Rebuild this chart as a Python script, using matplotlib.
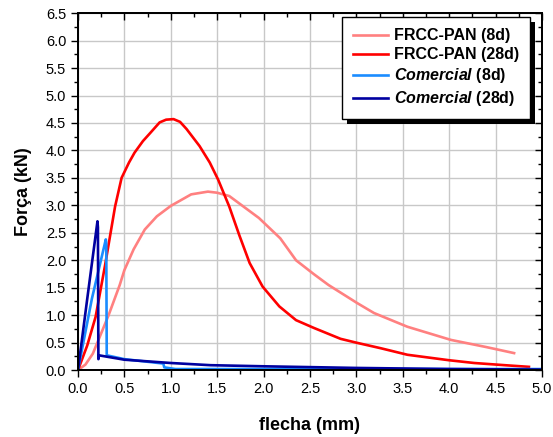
import matplotlib
matplotlib.use("Agg")
import matplotlib.pyplot as plt
from matplotlib.patches import Rectangle
from matplotlib.transforms import IdentityTransform
from matplotlib.ticker import MultipleLocator, FormatStrFormatter

plt.rcParams['font.family'] = ['Liberation Sans', 'DejaVu Sans']
plt.rcParams['mathtext.fontset'] = 'custom'
plt.rcParams['mathtext.it'] = 'Liberation Sans:bold:italic'
plt.rcParams['mathtext.rm'] = 'Liberation Sans:bold'

# FRCC-PAN (8d)
pan8_x = [0, 0.08, 0.16, 0.25, 0.33, 0.45, 0.5, 0.6, 0.72, 0.85, 1.0, 1.22, 1.4, 1.5, 1.63,
          1.95, 2.18, 2.35, 2.54, 2.7, 3.01, 3.19, 3.55, 4.02, 4.4, 4.7]
pan8_y = [0, 0.1, 0.3, 0.67, 1.0, 1.55, 1.82, 2.2, 2.56, 2.8, 2.99, 3.2, 3.25, 3.23, 3.17,
          2.77, 2.4, 2.0, 1.75, 1.55, 1.22, 1.04, 0.79, 0.55, 0.42, 0.31]

# FRCC-PAN (28d)
pan28_x = [0, 0.1, 0.19, 0.29, 0.4, 0.47, 0.55, 0.61, 0.7, 0.78, 0.88, 0.95, 1.03, 1.1,
           1.17, 1.31, 1.42, 1.51, 1.63, 1.74, 1.85, 1.99, 2.17, 2.35, 2.54, 2.83, 3.0,
           3.26, 3.55, 4.0, 4.27, 4.6, 4.86]
pan28_y = [0, 0.45, 0.97, 1.89, 2.98, 3.5, 3.78, 3.96, 4.17, 4.32, 4.51, 4.56, 4.57, 4.52,
           4.39, 4.08, 3.78, 3.47, 2.98, 2.45, 1.95, 1.52, 1.16, 0.91, 0.77, 0.57, 0.5,
           0.4, 0.28, 0.18, 0.13, 0.09, 0.06]

# Comercial (8d)
com8_x = [0, 0.15, 0.3, 0.305, 0.31, 0.5, 0.92, 0.93, 1.05, 5.0]
com8_y = [0, 1.3, 2.38, 2.3, 0.27, 0.2, 0.12, 0.05, 0.02, 0.02]

# Comercial (28d)
com28_x = [0, 0.1, 0.21, 0.215, 0.22, 0.225, 0.5, 1.0, 1.43, 2.0, 3.0, 4.0, 5.0]
com28_y = [0, 1.3, 2.71, 2.6, 0.2, 0.27, 0.19, 0.13, 0.09, 0.07, 0.04, 0.02, 0.01]

fig = plt.figure(figsize=(5.53, 4.37), dpi=100)
ax = fig.add_axes([0.141, 0.153, 0.839, 0.817])

lw = 1.9
ax.plot(pan8_x, pan8_y, color='#ff8080', lw=lw, label='FRCC-PAN (8d)')
ax.plot(pan28_x, pan28_y, color='#ff0000', lw=lw, label='FRCC-PAN (28d)')
ax.plot(com8_x, com8_y, color='#1a8cff', lw=lw, label=r'$\mathit{Comercial}$ (8d)')
ax.plot(com28_x, com28_y, color='#0000a0', lw=lw, label=r'$\mathit{Comercial}$ (28d)')

ax.set_xlim(0, 5)
ax.set_ylim(0, 6.5)
for axis in (ax.xaxis, ax.yaxis):
    axis.set_major_locator(MultipleLocator(0.5))
    axis.set_minor_locator(MultipleLocator(0.25))
    axis.set_major_formatter(FormatStrFormatter('%.1f'))
ax.grid(True, which='major', color='#c8c8c8', lw=1)
ax.set_axisbelow(True)
ax.tick_params(which='major', direction='out', length=5, width=1, labelsize=10.5)
ax.tick_params(which='minor', direction='out', length=3, width=1)
for s in ax.spines.values():
    s.set_linewidth(1.2)

ax.set_xlabel('flecha (mm)', fontsize=13, fontweight='bold', labelpad=15)
ax.set_ylabel('Força (kN)', fontsize=13, fontweight='bold', labelpad=10)

# inward ticks on top and right sides
tx = ax.twiny()
ty = ax.twinx()
tx.set_xlim(ax.get_xlim())
ty.set_ylim(ax.get_ylim())
for t, axis in ((tx, tx.xaxis), (ty, ty.yaxis)):
    axis.set_major_locator(MultipleLocator(0.5))
    axis.set_minor_locator(MultipleLocator(0.25))
    t.tick_params(which='major', direction='in', length=5, width=1)
    t.tick_params(which='minor', direction='in', length=3, width=1)
    t.spines[:].set_linewidth(1.2)
tx.tick_params(labeltop=False)
ty.tick_params(labelright=False)

leg = ty.legend(*ax.get_legend_handles_labels(), loc='upper right',
                bbox_to_anchor=(0.974, 0.989), borderaxespad=0,
                prop={'size': 11.5, 'weight': 'bold'}, fancybox=False,
                framealpha=1, edgecolor='black', handlelength=2.2, handletextpad=0.35,
                labelspacing=0.25, borderpad=0.7)
leg.get_frame().set_linewidth(1.0)
leg.set_zorder(6)

fig.canvas.draw()
bb = leg.get_window_extent()
ty.add_patch(Rectangle((bb.x0 + 5, bb.y0 - 5), bb.width, bb.height,
                       transform=IdentityTransform(), facecolor='black',
                       edgecolor='none', zorder=5.5, clip_on=False))

fig.savefig('out.png', dpi=100)
